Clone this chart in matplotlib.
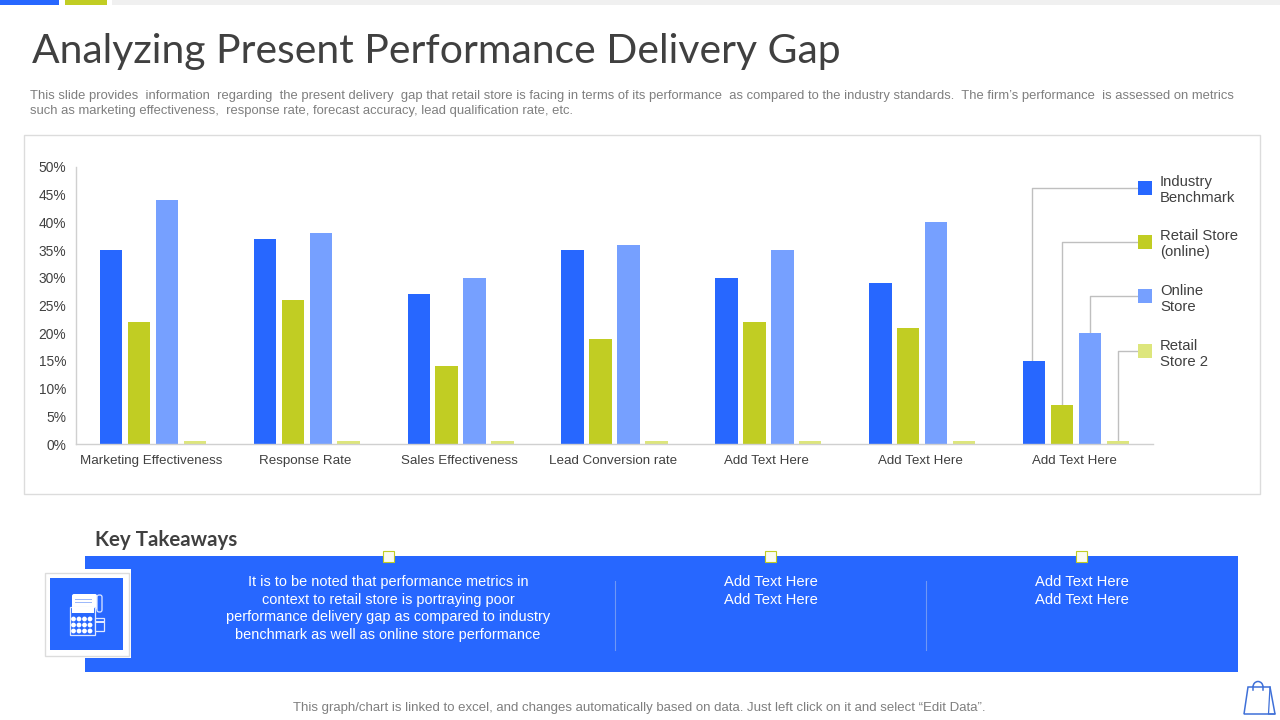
# -*- coding: utf-8 -*-
import numpy as np
import matplotlib
matplotlib.use("Agg")
import matplotlib.pyplot as plt
from matplotlib.patches import Rectangle, Circle, FancyBboxPatch, Polygon, Arc
from matplotlib.transforms import ScaledTranslation

plt.rcParams["font.family"] = ["Liberation Sans", "DejaVu Sans"]

CATEGORIES = ["Marketing Effectiveness", "Response Rate", "Sales Effectiveness",
              "Lead Conversion rate", "Add Text Here", "Add Text Here", "Add Text Here"]
INDUSTRY = [35, 37, 27, 35, 30, 29, 15]
RETAIL_ONLINE = [22, 26, 14, 19, 22, 21, 7]
ONLINE_STORE = [44, 38, 30, 36, 35, 40, 20]
RETAIL_2 = [0.5, 0.5, 0.5, 0.5, 0.5, 0.5, 0.5]
YTICKS = [0, 5, 10, 15, 20, 25, 30, 35, 40, 45, 50]

LEGEND_LABELS = ["Industry\nBenchmark", "Retail Store\n(online)", "Online\nStore", "Retail\nStore 2"]
COLORS = ["#2767ff", "#c1cd23", "#76a0ff", "#dde67c"]

TITLE = "Analyzing Present Performance Delivery Gap"
DESC_1 = ("This slide provides  information  regarding  the present delivery  gap that retail store is facing in terms of "
          "its performance  as compared to the industry standards.  The firm\u2019s performance  is assessed on metrics")
DESC_2 = "such as marketing effectiveness,  response rate, forecast accuracy, lead qualification rate, etc."
TAKEAWAY = ("It is to be noted that performance metrics in\ncontext to retail store is portraying poor\n"
            "performance delivery gap as compared to industry\nbenchmark as well as online store performance")
FOOTER = "This graph/chart is linked to excel, and changes automatically based on data. Just left click on it and select \u201cEdit Data\u201d."

TEXT_DARK = "#404040"
TEXT_GREY = "#7f7f7f"
LINE_GREY = "#bfbfbf"
W, H = 1280, 720

fig = plt.figure(figsize=(12.8, 7.2), dpi=100)

# pixel overlay for the slide furniture
bg = fig.add_axes([0, 0, 1, 1])
bg.set_xlim(0, W)
bg.set_ylim(H, 0)
bg.axis("off")

bg.add_patch(Rectangle((0, 0), 59, 5, color=COLORS[0], lw=0))
bg.add_patch(Rectangle((65, 0), 42, 5, color=COLORS[1], lw=0))
bg.add_patch(Rectangle((112, 0), 1168, 5, color="#f0f0f0", lw=0))

bg.text(32, 51.5, TITLE, fontsize=29.4, family=["Lato", "DejaVu Sans"], color=TEXT_DARK,
        va="center", ha="left")
bg.text(30, 95.5, DESC_1, fontsize=9.33, color=TEXT_GREY, va="center")
bg.text(30, 111, DESC_2, fontsize=9.33, color=TEXT_GREY, va="center")

bg.add_patch(Rectangle((24, 135), 1236, 359, fc="white", ec="#dcdcdc", lw=1))

# key takeaways band
bg.text(95, 540, "Key Takeaways", fontsize=14.8, family=["Lato", "DejaVu Sans"], weight="bold",
        color=TEXT_DARK, va="center")
bg.add_patch(Rectangle((85, 556), 1153, 116, color=COLORS[0], lw=0))
bg.add_patch(Rectangle((41, 569), 90, 89, color="white", lw=0))
bg.add_patch(Rectangle((45, 573), 84, 83, fc="white", ec="#dcdcdc", lw=1))
bg.add_patch(Rectangle((50, 578), 73, 72, color=COLORS[0], lw=0))

for x in (389, 771, 1082):
    bg.add_patch(Rectangle((x - 6, 551), 11, 11, fc="#fbfbf0", ec=COLORS[1], lw=0.8, zorder=5))
for x in (615, 926):
    bg.plot([x, x], [581, 650], color="#6f97f5", lw=0.8)

bg.text(388, 608.5, TAKEAWAY, fontsize=10.45, color="white", ha="center", va="center", linespacing=1.36)
for x in (771, 1082):
    bg.text(x, 591, "Add Text Here\nAdd Text Here", fontsize=10.6, color="white",
            ha="center", va="center", linespacing=1.29)

# calculator icon
ic = "#dfe8ff"
bg.add_patch(FancyBboxPatch((72, 594), 25, 16, boxstyle="round,pad=0,rounding_size=2", fc="white", ec="none"))
bg.add_patch(Rectangle((75, 599), 17, 1, color="#9db9fb", lw=0))
bg.add_patch(Rectangle((75, 602), 17, 1, color="#9db9fb", lw=0))
bg.add_patch(FancyBboxPatch((97, 595), 5, 17, boxstyle="round,pad=0,rounding_size=2", fc=COLORS[0], ec=ic, lw=0.9))
bg.add_patch(Rectangle((69.5, 607), 25.5, 28, fc=COLORS[0], ec=ic, lw=0.9))
bg.add_patch(Rectangle((72, 607), 22, 6, color="white", lw=0))
for cy in (619, 625, 631):
    for cx in (73.5, 79, 84.5, 90):
        bg.add_patch(Circle((cx, cy), 2.4, color="white", lw=0))
bg.add_patch(Rectangle((95, 618), 9, 13, fc=COLORS[0], ec=ic, lw=0.9))
bg.add_patch(Rectangle((95, 621), 9, 2, color=ic, lw=0))

bg.text(639.5, 708, FOOTER, fontsize=9.51, color=TEXT_GREY, ha="center", va="center")

# shopping bag icon
bag = "#3f70d8"
bg.add_patch(Polygon([(1248, 687), (1270, 687), (1275, 714), (1244, 714)], closed=True,
                     fc="white", ec=bag, lw=1.1))
bg.plot([1270, 1268.5, 1275], [687, 714, 714], color=bag, lw=0.9)
bg.add_patch(Arc((1258, 687), 10, 11, theta1=180, theta2=360, color=bag, lw=1.1))
bg.plot([1253, 1253], [687, 690], color=bag, lw=1.1)
bg.plot([1263, 1263], [687, 690], color=bag, lw=1.1)

# chart, x axis spans 76-1153 px, y axis 0% at 444 px and 50% at 167 px
ax = fig.add_axes([76 / W, 1 - 444 / H, (1153 - 76) / W, (444 - 167) / H])
ax.patch.set_alpha(0)
x = np.arange(len(CATEGORIES))
series = [INDUSTRY, RETAIL_ONLINE, ONLINE_STORE, RETAIL_2]
step = 0.1815
width = 0.146
for i, (vals, col) in enumerate(zip(series, COLORS)):
    ax.bar(x + (i - 1.5) * step, vals, width=width, color=col, lw=0)

ax.set_xlim(-0.5, len(CATEGORIES) - 0.5)
ax.set_ylim(0, 50)
ax.set_yticks(YTICKS)
ax.set_yticklabels([f"{v}%" for v in YTICKS], fontsize=9.9, color=TEXT_DARK)
ax.set_xticks(x)
ax.set_xticklabels(CATEGORIES, fontsize=9.64, color=TEXT_DARK)
ax.tick_params(length=0, axis="y", pad=7)
ax.tick_params(length=0, axis="x", pad=8)
for lab in ax.get_xticklabels():
    lab.set_transform(lab.get_transform() + ScaledTranslation(-1.5 / 100, 0, fig.dpi_scale_trans))
for side in ("top", "right"):
    ax.spines[side].set_visible(False)
for side in ("left", "bottom"):
    ax.spines[side].set_color("#d0d0d0")
    ax.spines[side].set_linewidth(1)

# legend swatches joined to the last group of bars
legend_y = [188, 242, 296, 351]
label_y = [190, 244, 299, 354]
leader_dx = [-2, 0, 0, 0]
last = len(CATEGORIES) - 1
for i, (vals, col, lab) in enumerate(zip(series, COLORS, LEGEND_LABELS)):
    top = bg.transData.inverted().transform(ax.transData.transform((last + (i - 1.5) * step, vals[last])))
    bx = top[0] + leader_dx[i]
    bg.plot([bx, bx, 1140], [top[1], legend_y[i], legend_y[i]], color=LINE_GREY, lw=1, zorder=1)
    bg.add_patch(Rectangle((1138, legend_y[i] - 7), 14, 14, color=col, lw=0, zorder=3))
    bg.text(1160, label_y[i], lab, fontsize=10.75, color=TEXT_DARK, va="center", ha="left", linespacing=1.27)

fig.savefig("out.png", dpi=100)
